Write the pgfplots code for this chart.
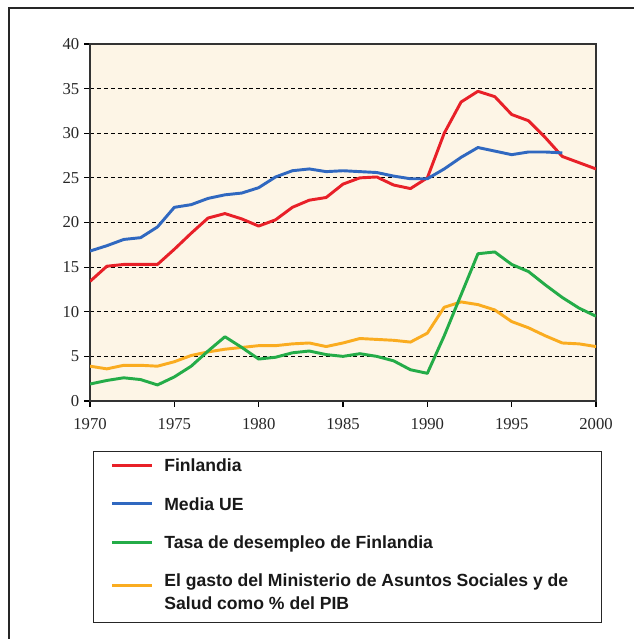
\documentclass[border=0pt]{standalone}
\usepackage{pgfplots}
\pgfplotsset{compat=1.18}
\usepackage{fontspec}
\setmainfont{Liberation Serif}
\setsansfont{Liberation Sans}
\definecolor{bgc}{RGB}{253,245,230}
\definecolor{cred}{RGB}{232,32,40}
\definecolor{cblue}{RGB}{48,104,192}
\definecolor{cgreen}{RGB}{36,172,72}
\definecolor{corange}{RGB}{250,172,32}
\newcommand\lst{\rule[-6.75pt]{0pt}{18.75pt}}
\newcommand\lsample[2][3.5pt]{\textcolor{#2}{\rule[#1]{30pt}{2.2pt}}}
\begin{document}
\begin{tikzpicture}
\useasboundingbox (0,0) rectangle (474.75pt,479.25pt);
\draw[line width=1.1pt, black!85] (6.75pt,-1pt) -- (6.75pt,473.25pt) -- (476pt,473.25pt);
\begin{axis}[
  name=ax,
  at={(67.5pt,178.5pt)}, anchor=south west,
  scale only axis, width=379.5pt, height=267.75pt,
  xmin=1970, xmax=2000, ymin=0, ymax=40,
  xtick={1970,1975,...,2000}, ytick={0,5,...,40},
  tick pos=left, tick align=outside, major tick length=4.5pt,
  tick style={black, line width=0.9pt},
  axis line style={black!80, line width=1.2pt},
  axis background/.style={fill=bgc},
  ymajorgrids, grid style={black, dashed, line width=0.8pt, dash pattern=on 3pt off 2.2pt},
  /pgf/number format/assume math mode=true,
  x tick label style={/pgf/number format/1000 sep={}, font=\fontsize{12.5}{14}\selectfont, text=black!85, yshift=-5pt},
  y tick label style={font=\fontsize{12.5}{14}\selectfont, text=black!85},
]
\addplot[corange, line width=2.2pt, line join=round] coordinates {
(1970,3.9) (1971,3.6) (1972,4.0) (1973,4.0) (1974,3.9) (1975,4.4) (1976,5.1) (1977,5.5)
(1978,5.8) (1979,6.0) (1980,6.2) (1981,6.2) (1982,6.4) (1983,6.5) (1984,6.1) (1985,6.5)
(1986,7.0) (1987,6.9) (1988,6.8) (1989,6.6) (1990,7.6) (1991,10.5) (1992,11.1) (1993,10.8)
(1994,10.2) (1995,8.9) (1996,8.2) (1997,7.3) (1998,6.5) (1999,6.4) (2000,6.1)};
\addplot[cgreen, line width=2.2pt, line join=round] coordinates {
(1970,1.9) (1971,2.3) (1972,2.6) (1973,2.4) (1974,1.8) (1975,2.7) (1976,3.9) (1977,5.6)
(1978,7.2) (1979,6.0) (1980,4.7) (1981,4.9) (1982,5.4) (1983,5.6) (1984,5.2) (1985,5.0)
(1986,5.3) (1987,5.0) (1988,4.5) (1989,3.5) (1990,3.1) (1991,7.3) (1992,11.9) (1993,16.5)
(1994,16.7) (1995,15.3) (1996,14.5) (1997,13.0) (1998,11.6) (1999,10.4) (2000,9.5)};
\addplot[cred, line width=2.2pt, line join=round] coordinates {
(1970,13.4) (1971,15.1) (1972,15.3) (1973,15.3) (1974,15.3) (1975,17.0) (1976,18.8) (1977,20.5)
(1978,21.0) (1979,20.4) (1980,19.6) (1981,20.3) (1982,21.7) (1983,22.5) (1984,22.8) (1985,24.3)
(1986,25.0) (1987,25.1) (1988,24.2) (1989,23.8) (1990,25.0) (1991,30.0) (1992,33.5) (1993,34.7)
(1994,34.1) (1995,32.1) (1996,31.4) (1997,29.5) (1998,27.4) (1999,26.7) (2000,26.0)};
\addplot[cblue, line width=2.2pt, line join=round] coordinates {
(1970,16.8) (1971,17.4) (1972,18.1) (1973,18.3) (1974,19.5) (1975,21.7) (1976,22.0) (1977,22.7)
(1978,23.1) (1979,23.3) (1980,23.9) (1981,25.1) (1982,25.8) (1983,26.0) (1984,25.7) (1985,25.8)
(1986,25.7) (1987,25.6) (1988,25.2) (1989,24.9) (1990,24.9) (1991,26.0) (1992,27.3) (1993,28.4)
(1994,28.0) (1995,27.6) (1996,27.9) (1997,27.9) (1998,27.8)};
\node[font=\sffamily\fontsize{13}{15}\selectfont, text=black!85, anchor=south] at (rel axis cs:0.006,1) [yshift=4pt] {\%};
\end{axis}
\node[anchor=north west, draw=black!85, line width=1pt, fill=white, inner xsep=14pt, inner ysep=3pt,
      xshift=2.25pt, yshift=-37.5pt,
      font=\sffamily\bfseries\fontsize{13.2}{17.25}\selectfont, text=black!90] at (ax.south west) {%
  \begin{tabular}{@{}l@{\hspace{9pt}}p{314pt}@{}}
  \lsample{cred} & \lst Finlandia\\[11.5pt]
  \lsample{cblue} & \lst Media UE\\[11.5pt]
  \lsample{cgreen} & \lst Tasa de desempleo de Finlandia\\[11.5pt]
  \lsample[-0.3pt]{corange} & \lst El gasto del Ministerio de Asuntos Sociales y de\newline Salud como \% del PIB\rule[-6.75pt]{0pt}{6.75pt}
  \end{tabular}};
\end{tikzpicture}
\end{document}
